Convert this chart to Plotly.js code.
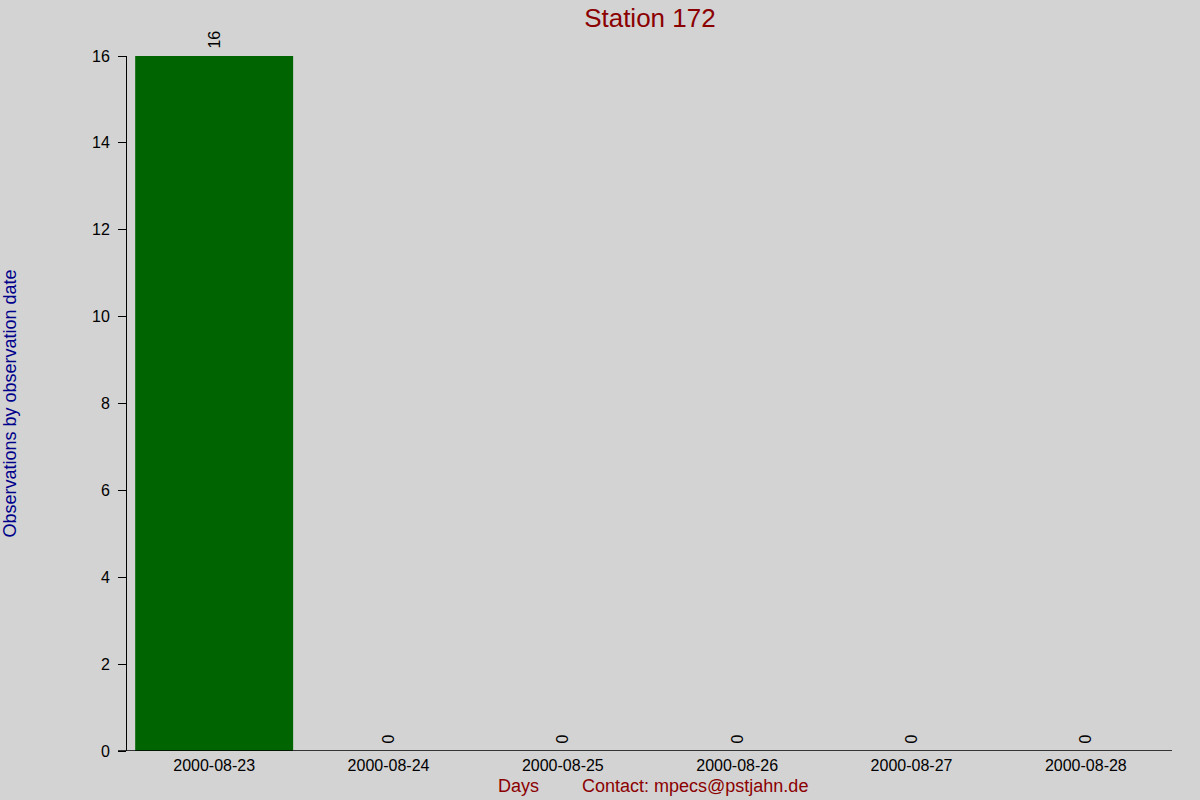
<!DOCTYPE html>
<html>
<head>
<meta charset="utf-8">
<script src="https://cdn.plot.ly/plotly-3.0.1.min.js"></script>
<style>
  html, body { margin: 0; padding: 0; background: #d3d3d3; }
  #chart { width: 1200px; height: 800px; }
</style>
</head>
<body>
<div id="chart"></div>
<script>
const days = ['2000-08-23', '2000-08-24', '2000-08-25', '2000-08-26', '2000-08-27', '2000-08-28'];
const observations = [16, 0, 0, 0, 0, 0];
const yTicks = [0, 2, 4, 6, 8, 10, 12, 14, 16];

const font = 'Liberation Sans, Arial, sans-serif';

const trace = {
  x: days,
  y: observations,
  type: 'bar',
  marker: { color: '#006400', line: { width: 0 } },
  // leading space pushes the rotated label a little off the bar top
  text: observations.map(v => '\u00a0' + v),
  textposition: 'outside',
  textangle: -90,
  cliponaxis: false,
  textfont: { family: font, size: 16, color: '#000000' },
  hoverinfo: 'x+y'
};

const layout = {
  width: 1200,
  height: 800,
  margin: { l: 127, r: 27, t: 56, b: 49 },
  paper_bgcolor: '#d3d3d3',
  plot_bgcolor: '#d3d3d3',
  font: { family: font, color: '#000000' },
  bargap: 0.094,
  showlegend: false,
  title: {
    text: 'Station 172',
    font: { family: font, size: 26, color: '#8b0000' },
    x: 0.5416,
    xanchor: 'center',
    y: 0.978,
    yanchor: 'middle'
  },
  xaxis: {
    type: 'category',
    range: [-0.5, 5.5],
    showgrid: false,
    zeroline: false,
    showline: false,
    ticks: '',
    ticklabelstandoff: 3,
    tickfont: { family: font, size: 16, color: '#000000' },
    fixedrange: true
  },
  yaxis: {
    range: [0, 16],
    tickvals: yTicks,
    ticktext: yTicks.map(String),
    showgrid: false,
    zeroline: false,
    showline: true,
    linecolor: '#000000',
    linewidth: 1,
    ticks: 'outside',
    ticklen: 8,
    tickcolor: '#000000',
    ticklabelstandoff: 5,
    tickfont: { family: font, size: 16, color: '#000000' },
    title: {
      text: 'Observations by observation date',
      font: { family: font, size: 18, color: '#00008b' },
      standoff: 90
    },
    automargin: false,
    fixedrange: true
  },
  shapes: [
    {
      type: 'line', xref: 'paper', yref: 'y',
      x0: -0.0086, x1: 0.999, y0: 0, y1: 0,
      line: { color: '#000000', width: 1.3 }
    }
  ],
  annotations: [
    {
      text: 'Days', xref: 'paper', yref: 'paper',
      x: 0.374, y: -0.0506, xanchor: 'center', yanchor: 'middle',
      showarrow: false,
      font: { family: font, size: 18, color: '#8b0000' }
    },
    {
      text: 'Contact: mpecs@pstjahn.de', xref: 'paper', yref: 'paper',
      x: 0.543, y: -0.0506, xanchor: 'center', yanchor: 'middle',
      showarrow: false,
      font: { family: font, size: 18, color: '#8b0000' }
    }
  ]
};

const config = { displayModeBar: false, staticPlot: true };

Plotly.newPlot('chart', [trace], layout, config);
</script>
</body>
</html>
